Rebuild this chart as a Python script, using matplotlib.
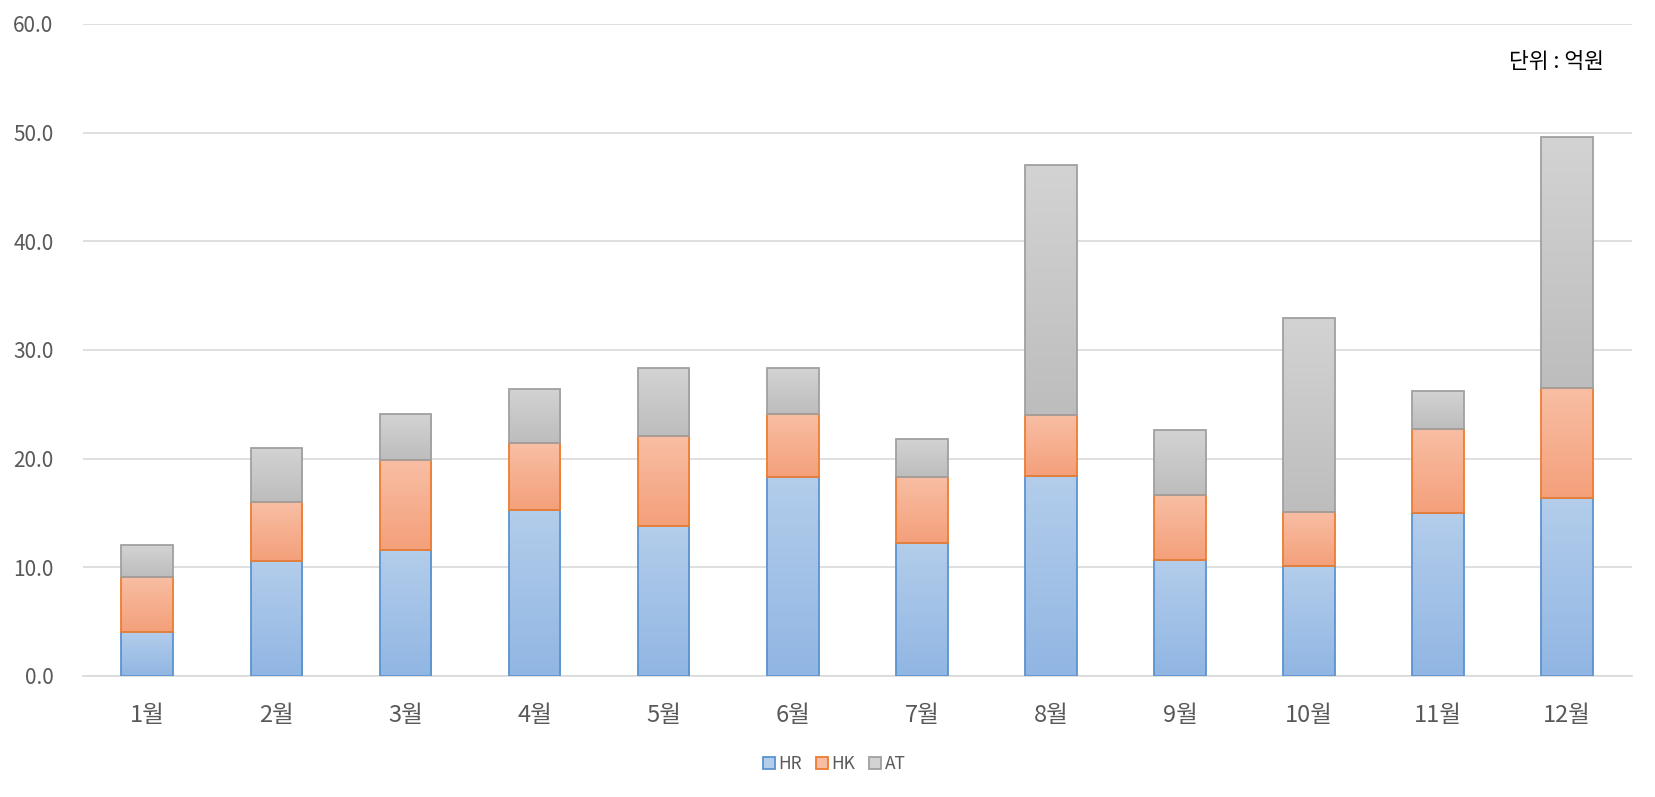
import matplotlib
matplotlib.use("Agg")
import matplotlib.pyplot as plt
import numpy as np
from matplotlib.colors import LinearSegmentedColormap
from matplotlib.patches import Patch

plt.rcParams['font.family'] = ['Noto Sans CJK KR', 'DejaVu Sans']

months = ['1월', '2월', '3월', '4월', '5월', '6월', '7월', '8월', '9월', '10월', '11월', '12월']
hr = [4.0, 10.6, 11.6, 15.3, 13.8, 18.3, 12.2, 18.4, 10.7, 10.1, 15.0, 16.4]
hk = [5.1, 5.4, 8.3, 6.1, 8.3, 5.8, 6.1, 5.6, 5.9, 5.0, 7.7, 10.1]
at = [2.9, 5.0, 4.2, 5.0, 6.2, 4.2, 3.5, 23.0, 6.0, 17.8, 3.5, 23.1]
series_names = ['HR', 'HK', 'AT']
unit_label = '단위 : 억원'

fills = {
    'HR': ('#b3cdeb', '#91b6e3', '#5b93cf'),
    'HK': ('#f8bea4', '#f4a07a', '#ed7d31'),
    'AT': ('#d3d3d3', '#bdbdbd', '#a0a0a0'),
}

fig = plt.figure(figsize=(16.55, 7.97), dpi=100)
ax = fig.add_axes([0.050, 0.152, 0.936, 0.818])

x = np.arange(len(months))
width = 0.40
bottoms = np.zeros(len(months))
for name, vals in zip(series_names, [hr, hk, at]):
    top_c, bot_c, edge = fills[name]
    cmap = LinearSegmentedColormap.from_list(name, [bot_c, top_c])
    bars = ax.bar(x, vals, width, bottom=bottoms, facecolor='none',
                  edgecolor=edge, linewidth=1.3, zorder=3, label=name)
    for b in bars:
        x0, y0 = b.get_x(), b.get_y()
        w, h = b.get_width(), b.get_height()
        grad = np.linspace(0, 1, 100).reshape(-1, 1)
        im = ax.imshow(grad, extent=(x0, x0 + w, y0, y0 + h), origin='lower',
                       aspect='auto', cmap=cmap, zorder=2)
        im.set_clip_path(b)
    bottoms = bottoms + np.array(vals)

ax.set_xlim(-0.5, len(months) - 0.5)
ax.set_ylim(0, 60)
ax.set_yticks(np.arange(0, 61, 10))
ax.set_yticklabels([f'{v:.1f}' for v in np.arange(0, 61, 10)])
ax.set_xticks(x)
ax.set_xticklabels(months)
ax.grid(axis='y', color='#d9d9d9', linewidth=1.2, zorder=0)
ax.set_axisbelow(True)
for s in ['top', 'right', 'left']:
    ax.spines[s].set_visible(False)
ax.spines['bottom'].set_color('#d9d9d9')
ax.spines['bottom'].set_linewidth(1.2)
ax.tick_params(axis='both', length=0, colors='#595959')
ax.tick_params(axis='y', labelsize=15, pad=21)
ax.tick_params(axis='x', labelsize=17, pad=20)

fig.text(0.969, 0.922, unit_label, ha='right', va='center', fontsize=15.5, color='#000000')

handles = [Patch(facecolor=fills[n][0], edgecolor=fills[n][2], linewidth=1.3) for n in series_names]
leg = fig.legend(handles, series_names, loc='center', bbox_to_anchor=(0.504, 0.041), ncol=3,
                 frameon=False, fontsize=12.5, handlelength=0.7, handleheight=0.7,
                 handletextpad=0.2, columnspacing=0.8, labelcolor='#595959')

fig.savefig('out.png', dpi=100)
